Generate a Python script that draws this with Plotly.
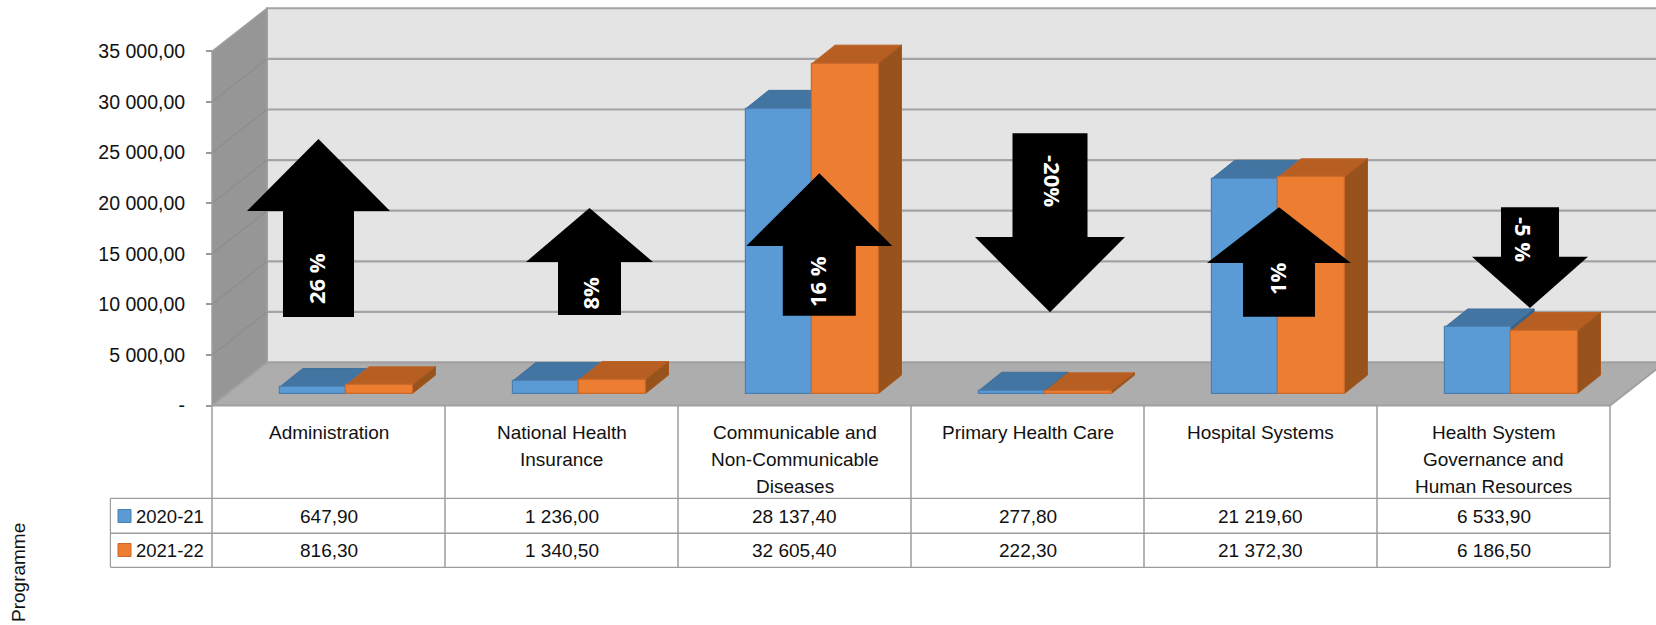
import plotly.graph_objects as go

# ---------- data ----------
categories = [
    ["Administration"],
    ["National Health", "Insurance"],
    ["Communicable and", "Non-Communicable", "Diseases"],
    ["Primary Health Care"],
    ["Hospital Systems"],
    ["Health System", "Governance and", "Human Resources"],
]
series_names = ["2020-21", "2021-22"]
values_2020 = [647.90, 1236.00, 28137.40, 277.80, 21219.60, 6533.90]
values_2021 = [816.30, 1340.50, 32605.40, 222.30, 21372.30, 6186.50]
y_ticks = [0, 5000, 10000, 15000, 20000, 25000, 30000, 35000]
y_labels = ["-", "5 000,00", "10 000,00", "15 000,00", "20 000,00", "25 000,00", "30 000,00", "35 000,00"]
# (label, rotation, text x, text y, centre x, tip y, head y, tail y, head half width, shaft half width)
arrows = [
    ("26 %", -90, 316, 279, 318.5, 139, 211, 317, 71.5, 35.5),
    ("8%", -90, 589.5, 293, 589.5, 208, 262, 315, 63.5, 31.5),
    ("16 %", -90, 817, 282, 819.3, 173.3, 246, 315.7, 73, 36.5),
    ("-20%", 90, 1053, 181, 1050, 312.3, 237, 133.3, 75, 37.5),
    ("1%", -90, 1277, 279, 1279, 207.3, 263, 316.7, 72, 36),
    ("-5 %", 90, 1524, 239, 1530, 308, 256.7, 207.3, 58, 29),
]

# ---------- geometry of the picture ----------
W, H = 1656, 625
PX0, CAT_PX = 212.0, 233.0        # left of plot, width of a category
PY0, PY_PER_UNIT = 405.5, 0.01012 # baseline, pixels per value unit
DX = 55 / CAT_PX                  # chart depth in x units
DY = 43 / PY_PER_UNIT             # chart depth in y units
BAR_W = 66.4 / CAT_PX
GAP = 49.7 / CAT_PX
BAR_SHIFT_X = 18.0 / CAT_PX
BAR_SHIFT_Y = 12.0 / PY_PER_UNIT
BAR_DX = 23 / CAT_PX
BAR_DY = 18.4 / PY_PER_UNIT
YMAX = 35000
XR = [-PX0 / CAT_PX, (W - PX0) / CAT_PX]
YR = [-(H - PY0) / PY_PER_UNIT, PY0 / PY_PER_UNIT]
FONT = "Liberation Sans"
n = len(categories)


def px(p):
    return p / W


def py(p):
    return 1 - p / H


def poly(xs, ys, fill, line=None, lw=1.0):
    return go.Scatter(x=xs + xs[:1], y=ys + ys[:1], mode="lines", fill="toself", fillcolor=fill,
                      line=dict(color=line or fill, width=lw), hoverinfo="skip", showlegend=False,
                      xaxis="x", yaxis="y")


fig = go.Figure()
EDGE = "#A3A3A3"
# walls and floor
fig.add_trace(poly([DX, n + DX + 1, n + DX + 1, DX], [DY, DY, YMAX + DY, YMAX + DY], "#E4E4E4", EDGE, 2))
fig.add_trace(poly([0, DX, DX, 0], [0, DY, YMAX + DY, YMAX], "#969696", "#9E9E9E", 1.5))
fig.add_trace(poly([0, n, n + DX, DX], [0, 0, DY, DY], "#ADADAD", "#A0A0A0", 2))
# gridlines on the walls
gx, gy, sx, sy = [], [], [], []
for t in y_ticks[1:-1]:
    gx += [DX, n + DX + 1, None]
    gy += [t + DY, t + DY, None]
    sx += [0, DX, None]
    sy += [t, t + DY, None]
fig.add_trace(go.Scatter(x=gx, y=gy, mode="lines", line=dict(color="#A3A3A3", width=2.2),
                         hoverinfo="skip", showlegend=False))
fig.add_trace(go.Scatter(x=sx, y=sy, mode="lines", line=dict(color="#8C8C8C", width=1.2),
                         hoverinfo="skip", showlegend=False))

# bar tops and side faces, back to front
for i in range(n):
    x0 = i + GAP + BAR_SHIFT_X
    xm = x0 + BAR_W
    x1 = xm + BAR_W
    v0, v1 = values_2020[i] + BAR_SHIFT_Y, values_2021[i] + BAR_SHIFT_Y
    fig.add_trace(poly([x0, xm, xm + BAR_DX, x0 + BAR_DX], [v0, v0, v0 + BAR_DY, v0 + BAR_DY],
                       "#4375A3", "#41719C"))
    fig.add_trace(poly([xm, xm + BAR_DX, xm + BAR_DX, xm], [BAR_SHIFT_Y, BAR_SHIFT_Y + BAR_DY, v0 + BAR_DY, v0],
                       "#3A6287", "#3A6287"))
    fig.add_trace(poly([xm, x1, x1 + BAR_DX, xm + BAR_DX], [v1, v1, v1 + BAR_DY, v1 + BAR_DY],
                       "#B75F23", "#BC6225"))
    fig.add_trace(poly([x1, x1 + BAR_DX, x1 + BAR_DX, x1], [BAR_SHIFT_Y, BAR_SHIFT_Y + BAR_DY, v1 + BAR_DY, v1],
                       "#98521C", "#A5591F"))

# front faces: real bars on an overlaid pair of axes with the same scale
for k, (vals, col, edge) in enumerate([(values_2020, "#5B9BD5", "#4A7FAF"), (values_2021, "#ED7D31", "#C96A2A")]):
    fig.add_trace(go.Bar(x=[i + GAP + BAR_SHIFT_X + BAR_W * (k + 0.5) for i in range(n)], y=vals,
                         base=[BAR_SHIFT_Y] * n, width=BAR_W, name=series_names[k],
                         marker=dict(color=col, line=dict(color=edge, width=1.2)),
                         xaxis="x2", yaxis="y2", showlegend=False, hoverinfo="skip"))

shapes, ann = [], []
TBL = "#9C9C9C"


def text(t, x, y, size=19, color="#111111", angle=0, family=FONT, bold=False):
    ann.append(dict(text=f"<b>{t}</b>" if bold else t, xref="paper", yref="paper", x=px(x), y=py(y),
                    xanchor="center", yanchor="middle", showarrow=False, textangle=angle,
                    font=dict(family=family, size=size, color=color)))


def hline(x0, x1, y, w=1.5):
    shapes.append(dict(type="line", xref="paper", yref="paper", x0=px(x0), x1=px(x1), y0=py(y), y1=py(y),
                       line=dict(color=TBL, width=w)))


def vline(x, y0, y1, w=1.5):
    shapes.append(dict(type="line", xref="paper", yref="paper", x0=px(x), x1=px(x), y0=py(y0), y1=py(y1),
                       line=dict(color=TBL, width=w)))


# data table
ROW1, ROW2, ROW3, TOP = 498.3, 533.3, 567.3, 406
LEFT = 110.4
for i in range(n + 1):
    vline(PX0 + CAT_PX * i, TOP, ROW3)
vline(LEFT, ROW1, ROW3, 1.2)
hline(LEFT, PX0 + CAT_PX * n, ROW1, 1.2)
hline(LEFT, PX0 + CAT_PX * n, ROW2, 1.5)
hline(LEFT, PX0 + CAT_PX * n, ROW3, 1.2)


def fmt(v):
    return f"{v:,.2f}".replace(",", " ").replace(".", ",")


for i in range(n):
    cx = PX0 + CAT_PX * (i + 0.5)
    for j, part in enumerate(categories[i]):
        text(part, cx, 432.5 + 27.2 * j)
    text(fmt(values_2020[i]), cx, 516)
    text(fmt(values_2021[i]), cx, 550)

for name, yc, col, edge in [(series_names[0], 516, "#5B9BD5", "#4A7FAF"), (series_names[1], 550, "#ED7D31", "#C96A2A")]:
    shapes.append(dict(type="rect", xref="paper", yref="paper", x0=px(118), x1=px(131), y0=py(yc - 6.5), y1=py(yc + 6.5),
                       fillcolor=col, line=dict(color=edge, width=1)))
    text(name, 169.5, yc, size=18.5)

text("Programme", 18, 573, angle=-90)

# block arrows
for label, ang, tx, ty, cx, tip, head, tail, hw, sw in arrows:
    pts = [(cx, tip), (cx + hw, head), (cx + sw, head), (cx + sw, tail), (cx - sw, tail), (cx - sw, head), (cx - hw, head)]
    path = "M" + " L".join(f"{px(a):.5f},{py(b):.5f}" for a, b in pts) + " Z"
    shapes.append(dict(type="path", xref="paper", yref="paper", path=path, fillcolor="black",
                       line=dict(width=0), layer="above"))
    text(label, tx, ty, size=22, color="white", angle=ang, family="Open Sans", bold=True)

axis_off = dict(visible=False, fixedrange=True)
fig.update_layout(
    width=W, height=H, margin=dict(l=0, r=0, t=0, b=0), autosize=False,
    paper_bgcolor="white", plot_bgcolor="white", barmode="overlay", bargap=0,
    showlegend=False, shapes=shapes, annotations=ann,
    xaxis=dict(range=XR, **axis_off),
    yaxis=dict(range=YR, fixedrange=True, anchor="free", position=PX0 / W, showgrid=False, zeroline=False,
               showline=False, tickmode="array", tickvals=y_ticks, ticktext=y_labels, ticks="outside",
               ticklen=6, tickcolor="#9A9A9A", tickwidth=1.5, ticklabelstandoff=17,
               tickfont=dict(family=FONT, size=19.5, color="#111111")),
    xaxis2=dict(range=XR, overlaying="x", **axis_off),
    yaxis2=dict(range=YR, overlaying="y", **axis_off),
)

fig.write_html("out.html", config={"displayModeBar": False},
               post_script="document.body.style.margin='0';document.body.style.overflow='hidden';")
